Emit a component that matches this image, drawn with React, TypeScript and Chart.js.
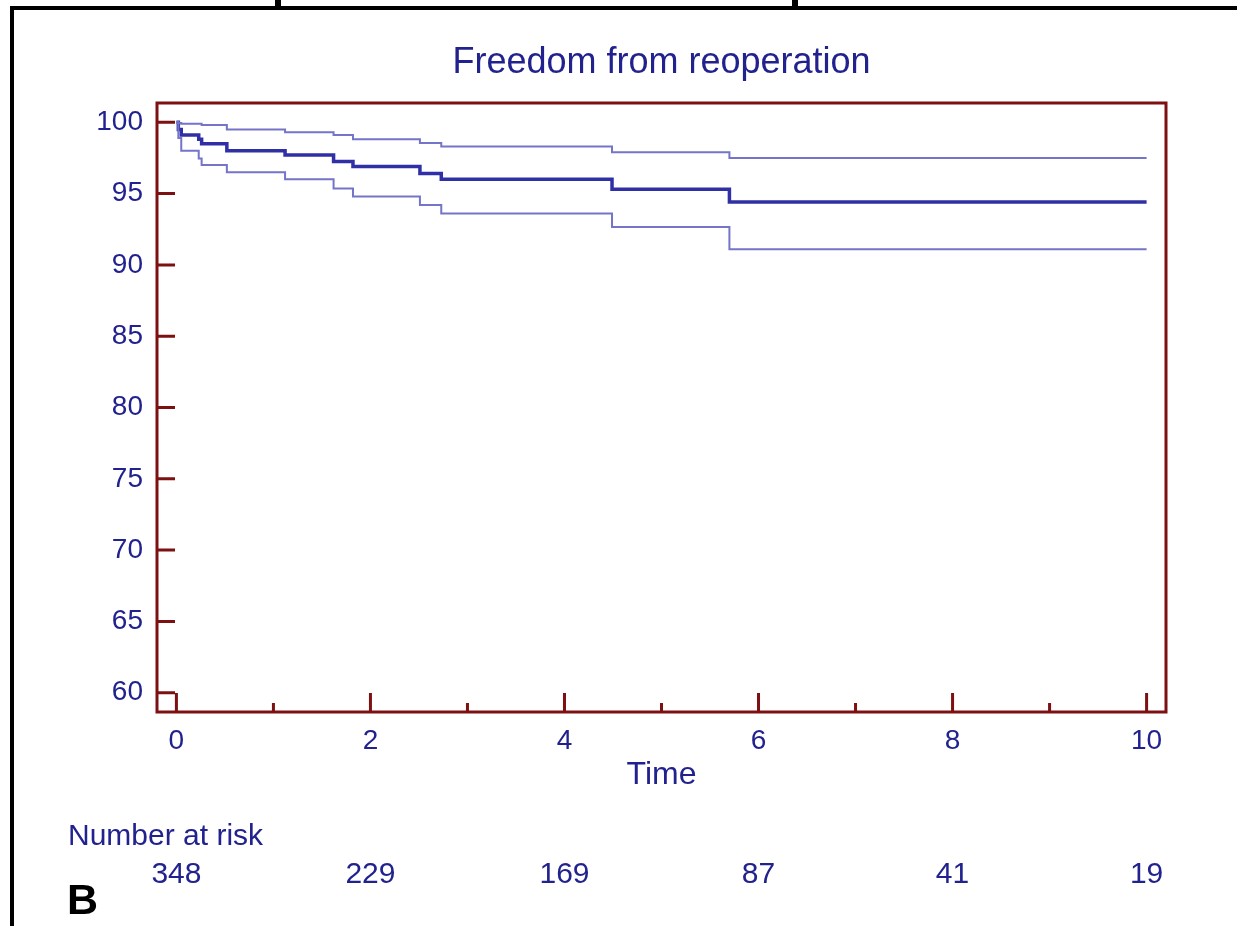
import React, { useEffect, useRef } from 'react';
import { Chart, registerables } from 'chart.js';

Chart.register(...registerables);

// ---- data ----
const TITLE = 'Freedom from reoperation';
const X_TITLE = 'Time';
const RISK_LABEL = 'Number at risk';
const PANEL_LABEL = 'B';

const timePoints = [0, 0.02, 0.05, 0.23, 0.26, 0.52, 1.12, 1.62, 1.82, 2.51, 2.73, 4.49, 5.7, 10];
const survival = [100, 99.5, 99.1, 98.8, 98.5, 98.0, 97.7, 97.25, 96.9, 96.4, 96.0, 95.3, 94.4, 94.4];
const upperCI = [100, 99.95, 99.9, 99.9, 99.8, 99.5, 99.3, 99.1, 98.8, 98.55, 98.3, 97.9, 97.5, 97.5];
const lowerCI = [100, 98.9, 98.0, 97.45, 97.0, 96.5, 96.0, 95.35, 94.8, 94.2, 93.6, 92.65, 91.1, 91.1];

const xTickValues = [0, 2, 4, 6, 8, 10];
const xMinorTickValues = [1, 3, 5, 7, 9];
const yTickValues = [60, 65, 70, 75, 80, 85, 90, 95, 100];

const riskTimes = [0, 2, 4, 6, 8, 10];
const numberAtRisk = [348, 229, 169, 87, 41, 19];

// ---- styles ----
const FONT = "'Liberation Sans', Arial, Helvetica, sans-serif";
const TEXT = '#22228f';
const BORDER = '#7d1010';
const MAIN = '#3030a6';
const CI = '#7474c9';

const toXY = (vals: number[]) => timePoints.map((t, i) => ({ x: t, y: vals[i] }));

const framePlugin = {
  id: 'kmFrame',
  beforeDatasetsDraw(chart: any) {
    const { ctx, chartArea: a, scales } = chart;
    const x = scales.x;
    const y = scales.y;
    ctx.save();
    ctx.strokeStyle = BORDER;
    ctx.lineWidth = 3;
    ctx.lineCap = 'butt';
    ctx.strokeRect(a.left, a.top, a.right - a.left, a.bottom - a.top);
    ctx.beginPath();
    yTickValues.forEach((v) => {
      const py = y.getPixelForValue(v);
      ctx.moveTo(a.left, py);
      ctx.lineTo(a.left + 18, py);
    });
    xTickValues.forEach((v) => {
      const px = x.getPixelForValue(v);
      ctx.moveTo(px, a.bottom);
      ctx.lineTo(px, a.bottom - 19);
    });
    xMinorTickValues.forEach((v) => {
      const px = x.getPixelForValue(v);
      ctx.moveTo(px, a.bottom);
      ctx.lineTo(px, a.bottom - 9);
    });
    ctx.stroke();
    ctx.restore();
  },
  afterDraw(chart: any) {
    const { ctx, scales, chartArea: a } = chart;
    const x = scales.x;
    ctx.save();
    ctx.fillStyle = TEXT;
    // chart title, centred over the plot area
    ctx.font = `36px ${FONT}`;
    ctx.textAlign = 'center';
    ctx.textBaseline = 'middle';
    ctx.fillText(TITLE, (a.left + a.right) / 2, 63.5);
    // number at risk table
    ctx.font = `30px ${FONT}`;
    ctx.textBaseline = 'alphabetic';
    ctx.textAlign = 'left';
    ctx.fillText(RISK_LABEL, 68, 845);
    ctx.textAlign = 'center';
    riskTimes.forEach((t, i) => {
      ctx.fillText(String(numberAtRisk[i]), x.getPixelForValue(t), 883);
    });
    ctx.fillStyle = '#000000';
    ctx.font = `bold 43px ${FONT}`;
    ctx.textAlign = 'left';
    ctx.fillText(PANEL_LABEL, 67, 914);
    ctx.restore();
  },
};

export default function App() {
  const ref = useRef<HTMLCanvasElement>(null);

  useEffect(() => {
    const canvas = ref.current;
    if (!canvas) return;
    const chart = new Chart(canvas, {
      type: 'line',
      data: {
        datasets: [
          {
            label: 'Upper 95% CI',
            data: toXY(upperCI),
            borderColor: CI,
            borderWidth: 2,
            stepped: 'before',
            pointRadius: 0,
            fill: false,
            borderJoinStyle: 'miter',
          },
          {
            label: 'Lower 95% CI',
            data: toXY(lowerCI),
            borderColor: CI,
            borderWidth: 2,
            stepped: 'before',
            pointRadius: 0,
            fill: false,
            borderJoinStyle: 'miter',
          },
          {
            label: 'Freedom from reoperation',
            data: toXY(survival),
            borderColor: MAIN,
            borderWidth: 3.5,
            stepped: 'before',
            pointRadius: 0,
            fill: false,
            borderJoinStyle: 'miter',
          },
        ],
      },
      options: {
        animation: false,
        responsive: false,
        devicePixelRatio: 1,
        events: [],
        layout: { padding: { left: 0, top: 103, right: 71, bottom: 132 } },
        plugins: {
          legend: { display: false },
          tooltip: { enabled: false },
          title: { display: false },
        },
        scales: {
          x: {
            type: 'linear',
            min: -0.2,
            max: 10.2,
            grid: { display: false, drawTicks: false },
            border: { display: false },
            afterBuildTicks: (scale: any) => {
              scale.ticks = xTickValues.map((v) => ({ value: v }));
            },
            afterFit: (scale: any) => {
              scale.height = 82;
            },
            ticks: {
              color: TEXT,
              font: { family: FONT, size: 28 },
              padding: 12,
              maxRotation: 0,
              autoSkip: false,
            },
            title: {
              display: true,
              text: X_TITLE,
              color: TEXT,
              font: { family: FONT, size: 32 },
              padding: 0,
            },
          },
          y: {
            type: 'linear',
            min: 58.65,
            max: 101.35,
            grid: { display: false, drawTicks: false },
            border: { display: false },
            afterBuildTicks: (scale: any) => {
              scale.ticks = yTickValues.map((v) => ({ value: v }));
            },
            afterFit: (scale: any) => {
              scale.width = 157;
            },
            ticks: {
              color: TEXT,
              font: { family: FONT, size: 28 },
              padding: 14,
              autoSkip: false,
            },
          },
        },
      },
      plugins: [framePlugin],
    } as any);
    return () => chart.destroy();
  }, []);

  return (
    <div
      style={{
        position: 'absolute',
        left: 0,
        top: 0,
        width: 1237,
        height: 926,
        background: '#ffffff',
        overflow: 'hidden',
      }}
    >
      <div style={{ position: 'absolute', left: 10, top: 6, width: 1227, height: 4, background: '#000' }} />
      <div style={{ position: 'absolute', left: 10, top: 6, width: 4, height: 920, background: '#000' }} />
      <div style={{ position: 'absolute', left: 275, top: 0, width: 6, height: 9, background: '#000' }} />
      <div style={{ position: 'absolute', left: 792, top: 0, width: 6, height: 9, background: '#000' }} />
      <canvas
        ref={ref}
        width={1237}
        height={926}
        style={{ position: 'absolute', left: 0, top: 0, width: 1237, height: 926 }}
      />
    </div>
  );
}
